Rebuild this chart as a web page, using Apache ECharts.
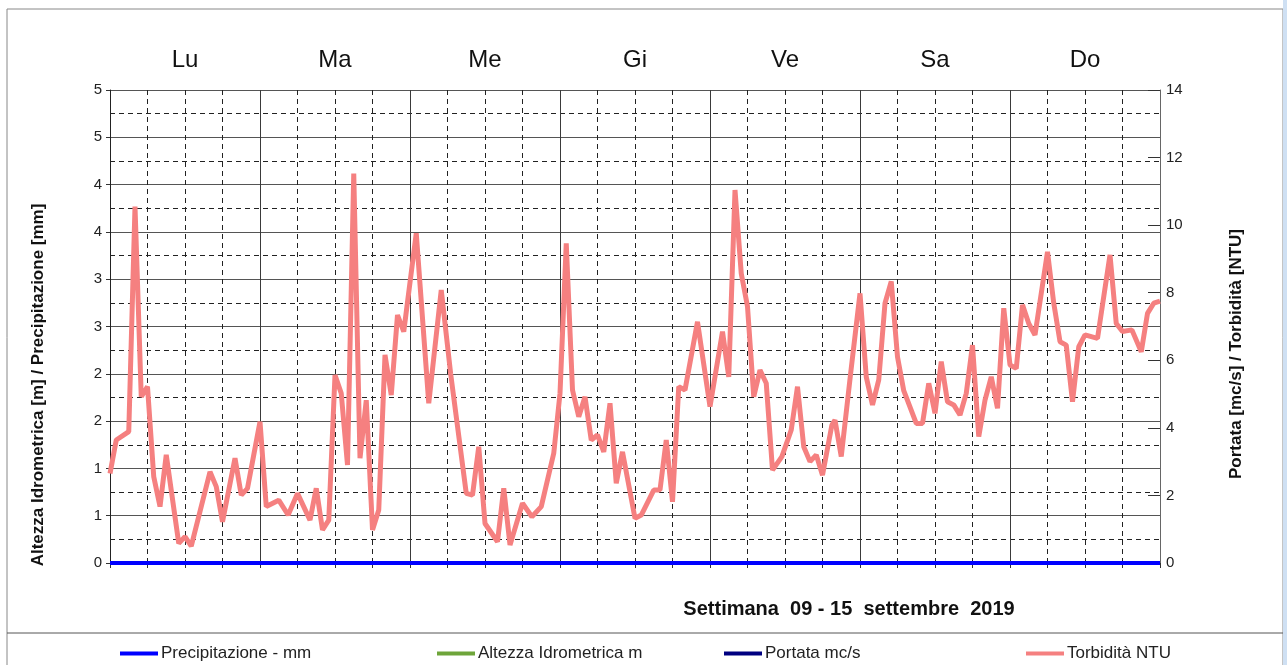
<!DOCTYPE html>
<html>
<head>
<meta charset="utf-8">
<title>Settimana 09 - 15 settembre 2019</title>
<script src="https://cdn.jsdelivr.net/npm/echarts@6/dist/echarts.min.js"></script>
<style>
  html, body { margin: 0; padding: 0; background: #fff; }
  #chart { width: 1287px; height: 665px; }
</style>
</head>
<body>
<div id="chart"></div>
<script>
// giorni della settimana (asse superiore)
const days = ['Lu', 'Ma', 'Me', 'Gi', 'Ve', 'Sa', 'Do']

// etichette asse sinistro (valori 0, 0.5, ... 5 arrotondati come nell'originale)
const leftTickLabels = ['0', '1', '1', '2', '2', '3', '3', '4', '4', '5', '5']

// precipitazione - mm, letta a inizio di ogni giorno (ore)
const precipHours = [0, 24, 48, 72, 96, 120, 144, 168]
const precipValues = [0, 0, 0, 0, 0, 0, 0, 0]

// torbidità NTU: ore dall'inizio della settimana, valori
const torbHours = [
  0, 1, 3, 4, 5, 6, 7, 8, 9, 11, 12, 13, 16, 17, 18, 20, 21, 22,
  24, 25, 27, 28.5, 30, 32, 33, 34, 35, 36, 37, 38, 39, 40, 41, 42, 43, 44, 45, 46, 47,
  49, 51, 53, 54.5, 57, 58, 59, 60, 62, 63, 64, 66, 67.5, 69, 71,
  72, 73, 74, 75, 76, 77, 78, 79, 80, 81, 82, 84, 85, 87, 88, 89, 90, 91, 92, 94,
  96, 98, 99, 100, 101, 102, 103, 104, 105, 106, 107.5, 109, 110, 111, 112, 113, 114, 115.5, 116, 117, 118.5,
  120, 121, 122, 123, 124, 125, 126, 127, 129, 130, 131, 132, 133, 134, 135, 136, 137, 138, 139, 140, 141, 142, 143,
  144, 145, 146, 147, 148, 150, 151, 152, 153, 154, 155, 156, 158, 160, 161, 162, 163.5, 165, 166, 167, 168
]
const torbValues = [
  2.65, 3.64, 3.89, 10.55, 4.92, 5.22, 2.55, 1.67, 3.2, 0.58, 0.78, 0.5, 2.7, 2.26, 1.22, 3.1, 2.01, 2.21,
  4.18, 1.67, 1.86, 1.42, 2.06, 1.27, 2.21, 0.98, 1.27, 5.56, 5.02, 2.9, 11.53, 3.1, 4.82, 0.98, 1.57, 6.16, 4.97, 7.34, 6.85,
  9.76, 4.73, 8.08, 5.61, 2.06, 2.01, 3.44, 1.17, 0.63, 2.21, 0.53, 1.77, 1.37, 1.67, 3.25,
  5.02, 9.46, 5.12, 4.33, 4.92, 3.64, 3.79, 3.29, 4.73, 2.36, 3.29, 1.32, 1.42, 2.16, 2.16, 3.64, 1.81, 5.22, 5.12, 7.14,
  4.63, 6.85, 5.51, 11.04, 8.57, 7.59, 4.92, 5.71, 5.32, 2.75, 3.15, 3.94, 5.22, 3.44, 3.0, 3.2, 2.6, 4.08, 4.23, 3.15, 5.61,
  7.98, 5.51, 4.68, 5.42, 7.69, 8.33, 6.1, 5.1, 4.13, 4.13, 5.32, 4.43, 5.96, 4.77, 4.68, 4.38, 5.02, 6.45, 3.74, 4.82, 5.51, 4.58, 7.54,
  5.86, 5.76, 7.64, 7.09, 6.75, 9.21, 7.69, 6.55, 6.45, 4.77, 6.4, 6.75, 6.65, 9.12, 7.09, 6.85, 6.9, 6.25, 7.39, 7.69, 7.75
]

const seriesNames = ['Precipitazione - mm', 'Altezza Idrometrica m', 'Portata mc/s', 'Torbidità NTU']
const seriesColors = ['#0000ff', '#6ea53a', '#000080', '#f58080']

const zip = (xs, ys) => xs.map((x, i) => [x, ys[i]])

const chart = echarts.init(document.getElementById('chart'))

const legendLefts = [120, 437, 724, 1026]

chart.setOption({
  animation: false,
  textStyle: { fontFamily: 'Liberation Sans, Arial, sans-serif' },
  color: seriesColors,
  grid: { left: 110, right: 127, top: 90, bottom: 102 },
  legend: seriesNames.map((name, i) => ({
    data: [name],
    left: legendLefts[i],
    top: 645,
    icon: 'rect',
    itemWidth: 38,
    itemHeight: 4,
    padding: 0,
    textStyle: { fontSize: 17, color: '#222', padding: [0, 0, 0, -2] }
  })),
  xAxis: [{
    type: 'value',
    min: 0,
    max: 168,
    interval: 24,
    axisLabel: { show: false },
    axisLine: { show: true, lineStyle: { color: '#333' } },
    axisTick: { show: true, length: 5, lineStyle: { color: '#333' } },
    minorTick: { show: true, splitNumber: 4, length: 5, lineStyle: { color: '#333' } },
    splitLine: { show: true, lineStyle: { color: '#3a3a3a', width: 1 } },
    minorSplitLine: { show: true, lineStyle: { color: '#222', width: 1, type: [5, 4] } }
  }, {
    type: 'category',
    position: 'top',
    data: days,
    boundaryGap: true,
    axisLine: { show: false },
    axisTick: { show: false },
    splitLine: { show: false },
    axisLabel: { fontSize: 24, color: '#111', margin: 18 }
  }],
  yAxis: [{
    type: 'value',
    min: 0,
    max: 5,
    interval: 0.5,
    axisLine: { show: true, lineStyle: { color: '#222' } },
    axisTick: { show: true, length: 4, lineStyle: { color: '#333' } },
    axisLabel: {
      fontSize: 15,
      color: '#222',
      margin: 8,
      formatter: (v) => leftTickLabels[Math.round(v / 0.5)]
    },
    minorTick: { show: false, splitNumber: 2 },
    splitLine: { show: true, lineStyle: { color: '#555', width: 1 } },
    minorSplitLine: { show: true, lineStyle: { color: '#222', width: 1, type: [5, 4] } }
  }, {
    type: 'value',
    min: 0,
    max: 14,
    interval: 2,
    position: 'right',
    axisLine: { show: true, lineStyle: { color: '#666' } },
    axisTick: { show: true, inside: true, length: 12, lineStyle: { color: '#333' } },
    axisLabel: { fontSize: 15, color: '#222', margin: 6 },
    splitLine: { show: false }
  }],
  series: [{
    name: seriesNames[0],
    type: 'line',
    xAxisIndex: 0,
    yAxisIndex: 0,
    data: zip(precipHours, precipValues),
    showSymbol: false,
    lineStyle: { width: 4, color: seriesColors[0] },
    z: 5
  }, {
    name: seriesNames[1],
    type: 'line',
    xAxisIndex: 0,
    yAxisIndex: 0,
    data: [],
    showSymbol: false,
    lineStyle: { width: 4 }
  }, {
    name: seriesNames[2],
    type: 'line',
    xAxisIndex: 0,
    yAxisIndex: 1,
    data: [],
    showSymbol: false,
    lineStyle: { width: 4 }
  }, {
    name: seriesNames[3],
    type: 'line',
    xAxisIndex: 0,
    yAxisIndex: 1,
    data: zip(torbHours, torbValues),
    showSymbol: false,
    lineStyle: { width: 5, color: seriesColors[3] },
    z: 4
  }],
  graphic: [
    // cornice esterna e separatore legenda
    { type: 'rect', shape: { x: 7, y: 9, width: 1276, height: 670 }, style: { fill: 'none', stroke: '#888', lineWidth: 1 }, silent: true },
    { type: 'line', shape: { x1: 7, y1: 633, x2: 1283, y2: 633 }, style: { stroke: '#555', lineWidth: 1 }, silent: true },
    { type: 'rect', shape: { x: 1283, y: 0, width: 4, height: 665 }, style: { fill: '#cfe0f3' }, silent: true },
    {
      type: 'text',
      x: 38, y: 385,
      rotation: Math.PI / 2,
      style: {
        text: 'Altezza Idrometrica [m] / Precipitazione [mm]',
        font: 'bold 17px "Liberation Sans", Arial, sans-serif',
        fill: '#111', align: 'center', verticalAlign: 'middle'
      }
    },
    {
      type: 'text',
      x: 1236, y: 354,
      rotation: Math.PI / 2,
      style: {
        text: 'Portata [mc/s] / Torbidità [NTU]',
        font: 'bold 17px "Liberation Sans", Arial, sans-serif',
        fill: '#111', align: 'center', verticalAlign: 'middle'
      }
    },
    {
      type: 'text',
      x: 849, y: 609,
      style: {
        text: 'Settimana  09 - 15  settembre  2019',
        font: 'bold 20px "Liberation Sans", Arial, sans-serif',
        fill: '#111', align: 'center', verticalAlign: 'middle'
      }
    }
  ]
})
</script>
</body>
</html>
